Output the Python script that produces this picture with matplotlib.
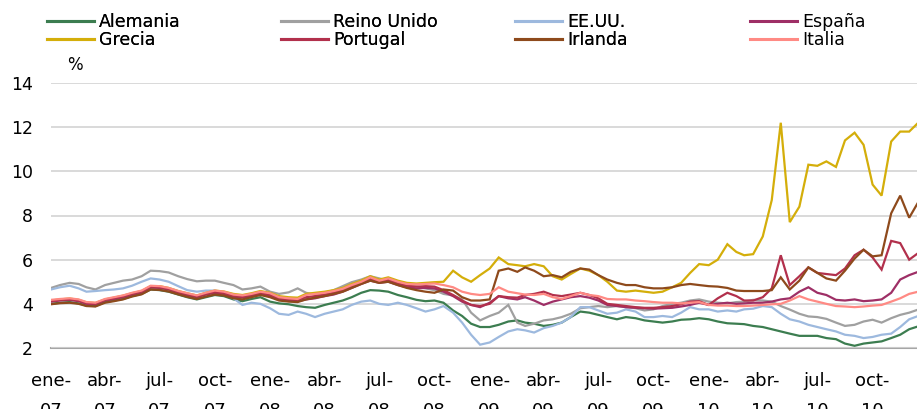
import datetime as dt
import matplotlib
matplotlib.use("Agg")
import matplotlib.pyplot as plt
from matplotlib.lines import Line2D

plt.rcParams['font.family'] = ['DejaVu Sans']

# ---- data: semi-monthly readings (1st and 16th of each month), Jan 2007 - Dec 2010 ----
alemania = [
    4.00, 4.05, 4.08, 4.02, 3.92, 3.90, 4.08, 4.15, 4.22, 4.35, 4.45, 4.65,
    4.62, 4.55, 4.42, 4.30, 4.20, 4.30, 4.40, 4.35, 4.20, 4.12, 4.22, 4.30,
    4.10, 4.02, 3.98, 3.90, 3.85, 3.82, 3.95, 4.05, 4.15, 4.30, 4.50, 4.62,
    4.60, 4.55, 4.40, 4.30, 4.18, 4.12, 4.15, 4.05, 3.70, 3.45, 3.10, 2.95,
    2.95, 3.05, 3.20, 3.25, 3.15, 3.10, 3.00, 3.05, 3.15, 3.40, 3.65, 3.60,
    3.50, 3.40, 3.30, 3.40, 3.35, 3.25, 3.20, 3.15, 3.20, 3.28, 3.30, 3.35,
    3.30, 3.20, 3.12, 3.10, 3.08, 3.00, 2.95, 2.85, 2.75, 2.65, 2.55, 2.55,
    2.55, 2.45, 2.40, 2.20, 2.10, 2.20, 2.25, 2.30, 2.45, 2.60, 2.85, 2.98]
reino_unido = [
    4.72, 4.85, 4.95, 4.90, 4.75, 4.65, 4.85, 4.95, 5.05, 5.10, 5.25, 5.50,
    5.48, 5.42, 5.25, 5.12, 5.02, 5.05, 5.05, 4.95, 4.85, 4.65, 4.70, 4.78,
    4.55, 4.45, 4.52, 4.70, 4.50, 4.42, 4.50, 4.62, 4.80, 4.98, 5.10, 5.25,
    5.15, 5.05, 5.00, 4.90, 4.80, 4.70, 4.62, 4.45, 4.38, 4.20, 3.60, 3.25,
    3.45, 3.60, 3.95, 3.15, 3.00, 3.10, 3.25, 3.30, 3.40, 3.55, 3.80, 3.85,
    3.90, 3.85, 3.90, 3.85, 3.80, 3.70, 3.75, 3.90, 4.00, 4.05, 4.15, 4.20,
    4.10, 4.05, 4.02, 4.08, 4.10, 4.18, 4.15, 4.10, 3.90, 3.74, 3.55, 3.43,
    3.40, 3.32, 3.15, 3.00, 3.05, 3.20, 3.28, 3.15, 3.35, 3.50, 3.60, 3.74]
eeuu = [
    4.65, 4.75, 4.82, 4.70, 4.55, 4.58, 4.62, 4.65, 4.70, 4.82, 5.00, 5.15,
    5.10, 5.00, 4.80, 4.62, 4.55, 4.60, 4.60, 4.50, 4.25, 3.95, 4.05, 4.00,
    3.80, 3.55, 3.50, 3.65, 3.55, 3.40, 3.55, 3.65, 3.75, 3.95, 4.10, 4.15,
    4.00, 3.95, 4.05, 3.95, 3.80, 3.65, 3.75, 3.90, 3.60, 3.15, 2.60, 2.15,
    2.25, 2.50, 2.75, 2.85, 2.80, 2.70, 2.90, 3.00, 3.15, 3.40, 3.85, 3.85,
    3.70, 3.55, 3.60, 3.75, 3.65, 3.40, 3.40, 3.45, 3.40, 3.60, 3.85, 3.75,
    3.75, 3.65, 3.70, 3.65, 3.75, 3.78, 3.90, 3.85, 3.55, 3.30, 3.20, 3.05,
    2.95, 2.85, 2.75, 2.60, 2.55, 2.45, 2.50, 2.60, 2.65, 2.95, 3.30, 3.45]
espana = [
    4.10, 4.15, 4.18, 4.12, 4.00, 3.98, 4.15, 4.22, 4.30, 4.42, 4.52, 4.74,
    4.72, 4.65, 4.50, 4.40, 4.30, 4.42, 4.50, 4.45, 4.32, 4.28, 4.35, 4.45,
    4.35, 4.20, 4.15, 4.12, 4.20, 4.25, 4.35, 4.42, 4.55, 4.72, 4.90, 5.05,
    4.95, 5.00, 4.85, 4.75, 4.70, 4.72, 4.70, 4.55, 4.35, 4.10, 3.95, 3.85,
    4.05, 4.35, 4.25, 4.20, 4.30, 4.15, 3.95, 4.10, 4.20, 4.30, 4.35, 4.28,
    4.15, 3.95, 3.90, 3.85, 3.82, 3.80, 3.78, 3.80, 3.82, 3.88, 3.95, 4.05,
    3.95, 4.00, 4.05, 4.00, 4.02, 4.05, 4.05, 4.10, 4.20, 4.25, 4.55, 4.75,
    4.50, 4.40, 4.18, 4.15, 4.20, 4.12, 4.15, 4.20, 4.50, 5.10, 5.30, 5.45]
grecia = [
    4.15, 4.20, 4.24, 4.18, 4.07, 4.04, 4.20, 4.28, 4.37, 4.48, 4.58, 4.80,
    4.80, 4.72, 4.58, 4.48, 4.38, 4.50, 4.60, 4.56, 4.45, 4.40, 4.48, 4.58,
    4.50, 4.35, 4.30, 4.28, 4.45, 4.50, 4.55, 4.62, 4.72, 4.90, 5.05, 5.25,
    5.10, 5.20, 5.05, 4.95, 4.92, 4.95, 4.98, 5.00, 5.50, 5.20, 5.00, 5.30,
    5.60, 6.10, 5.80, 5.75, 5.70, 5.80, 5.70, 5.25, 5.10, 5.35, 5.60, 5.50,
    5.30, 5.00, 4.60, 4.55, 4.60, 4.55, 4.50, 4.55, 4.75, 4.95, 5.40, 5.80,
    5.75, 6.00, 6.70, 6.35, 6.20, 6.25, 7.05, 8.70, 12.20, 7.70, 8.40, 10.30,
    10.25, 10.45, 10.20, 11.40, 11.75, 11.20, 9.40, 8.90, 11.35, 11.80, 11.80, 12.20]
portugal = [
    4.12, 4.18, 4.20, 4.15, 4.03, 4.00, 4.18, 4.25, 4.33, 4.45, 4.55, 4.77,
    4.75, 4.68, 4.53, 4.43, 4.33, 4.45, 4.53, 4.48, 4.36, 4.32, 4.40, 4.50,
    4.40, 4.25, 4.20, 4.18, 4.30, 4.35, 4.42, 4.50, 4.62, 4.80, 4.95, 5.12,
    5.00, 5.08, 4.92, 4.82, 4.78, 4.80, 4.78, 4.62, 4.40, 4.15, 3.95, 3.90,
    4.00, 4.35, 4.30, 4.28, 4.40, 4.45, 4.55, 4.40, 4.35, 4.42, 4.50, 4.40,
    4.25, 4.00, 3.95, 3.90, 3.85, 3.82, 3.82, 3.85, 3.90, 3.98, 4.10, 4.12,
    3.95, 4.25, 4.50, 4.35, 4.15, 4.15, 4.30, 4.70, 6.20, 4.85, 5.25, 5.65,
    5.40, 5.35, 5.30, 5.60, 6.20, 6.45, 6.10, 5.55, 6.85, 6.75, 6.00, 6.30]
irlanda = [
    3.98, 4.03, 4.05, 4.00, 3.90, 3.88, 4.05, 4.12, 4.20, 4.33, 4.43, 4.65,
    4.63, 4.56, 4.43, 4.32, 4.22, 4.33, 4.42, 4.38, 4.25, 4.20, 4.30, 4.40,
    4.30, 4.15, 4.10, 4.08, 4.20, 4.28, 4.35, 4.45, 4.55, 4.72, 4.90, 5.05,
    4.95, 5.00, 4.85, 4.72, 4.62, 4.55, 4.50, 4.65, 4.60, 4.30, 4.15, 4.15,
    4.20, 5.50, 5.60, 5.45, 5.65, 5.50, 5.25, 5.30, 5.20, 5.45, 5.60, 5.55,
    5.30, 5.10, 4.95, 4.85, 4.85, 4.75, 4.70, 4.70, 4.75, 4.85, 4.90, 4.85,
    4.80, 4.78, 4.72, 4.60, 4.58, 4.58, 4.58, 4.62, 5.20, 4.65, 5.05, 5.65,
    5.40, 5.15, 5.05, 5.50, 6.05, 6.45, 6.15, 6.20, 8.10, 8.90, 7.90, 8.60]
italia = [
    4.18, 4.22, 4.25, 4.20, 4.08, 4.05, 4.22, 4.30, 4.38, 4.50, 4.60, 4.82,
    4.80, 4.72, 4.58, 4.48, 4.38, 4.50, 4.60, 4.55, 4.42, 4.38, 4.45, 4.55,
    4.48, 4.30, 4.25, 4.22, 4.40, 4.45, 4.50, 4.58, 4.68, 4.85, 5.00, 5.20,
    5.05, 5.15, 5.00, 4.90, 4.88, 4.90, 4.92, 4.85, 4.75, 4.55, 4.45, 4.40,
    4.45, 4.75, 4.55, 4.48, 4.42, 4.40, 4.45, 4.30, 4.22, 4.35, 4.50, 4.40,
    4.35, 4.22, 4.20, 4.20, 4.15, 4.12, 4.08, 4.05, 4.05, 4.02, 4.05, 4.08,
    3.95, 3.92, 3.92, 3.90, 3.90, 3.92, 3.95, 3.98, 4.00, 4.15, 4.35, 4.20,
    4.10, 4.00, 3.90, 3.88, 3.85, 3.88, 3.92, 3.95, 4.10, 4.25, 4.45, 4.55]

series_names = ["Alemania", "Reino Unido", "EE.UU.", "España",
                "Grecia", "Portugal", "Irlanda", "Italia"]
series_values = [alemania, reino_unido, eeuu, espana, grecia, portugal, irlanda, italia]
series_colors = ["#3c7d50", "#a0a0a0", "#9db9de", "#9e2f66",
                 "#d4ae0a", "#b2304c", "#8e4a1c", "#ff8a84"]

month_abbr = ["ene", "feb", "mar", "abr", "may", "jun",
              "jul", "ago", "sep", "oct", "nov", "dic"]
y_ticks = [2, 4, 6, 8, 10, 12, 14]

# dates for the semi-monthly readings
dates = []
for k in range(len(alemania)):
    m = k // 2
    dates.append(dt.date(2007 + m // 12, m % 12 + 1, 1 if k % 2 == 0 else 16))

W, H = 917, 409
fig = plt.figure(figsize=(W / 100, H / 100), dpi=100)
ax = fig.add_axes([51 / W, (H - 348) / H, (W - 51) / W, (348 - 83) / H])

for name, vals, col in zip(series_names, series_values, series_colors):
    ax.plot(dates, vals, color=col, lw=1.6, label=name, solid_joinstyle='miter')

ax.set_ylim(2, 14)
ax.set_xlim(dt.date(2007, 1, 1), dt.date(2010, 12, 14))
ax.set_yticks(y_ticks)
ax.set_yticklabels([str(v) for v in y_ticks])
ax.grid(axis='y', color='#d3d3d3', lw=1.2)
ax.set_axisbelow(True)

xt, xl = [], []
for yr in range(2007, 2011):
    for mo in (1, 4, 7, 10):
        xt.append(dt.date(yr, mo, 1))
        xl.append(f"{month_abbr[mo - 1]}-\n{str(yr)[2:]}")
ax.set_xticks(xt)
ax.set_xticklabels(xl, linespacing=1.9)

for s in ('top', 'right', 'left'):
    ax.spines[s].set_visible(False)
ax.spines['bottom'].set_color('#a6a6a6')
ax.spines['bottom'].set_linewidth(1.5)
ax.spines['bottom'].set_zorder(0.5)
ax.tick_params(axis='y', length=0, pad=13, labelsize=12.5, colors='#000000')
ax.tick_params(axis='x', length=0, pad=17, labelsize=13, colors='#000000')

# legend: four columns, two rows (row-wise order)
col_x = [47, 281, 515, 750]
handles = [Line2D([], [], color=c, lw=2.2) for c in series_colors]
for j in range(4):
    pair = [j, j + 4]
    leg = fig.legend([handles[p] for p in pair], [series_names[p] for p in pair],
                     loc='upper left', bbox_to_anchor=(col_x[j] / W, 1 - 13 / H),
                     frameon=False, fontsize=12.5, handlelength=2.7,
                     handletextpad=0.3, labelspacing=0.0, borderpad=0,
                     borderaxespad=0)
    if j < 3:
        fig.add_artist(leg)

fig.text(75 / W, 1 - 65 / H, "%", ha='center', va='center', fontsize=12)

fig.savefig("out.png", dpi=100)
